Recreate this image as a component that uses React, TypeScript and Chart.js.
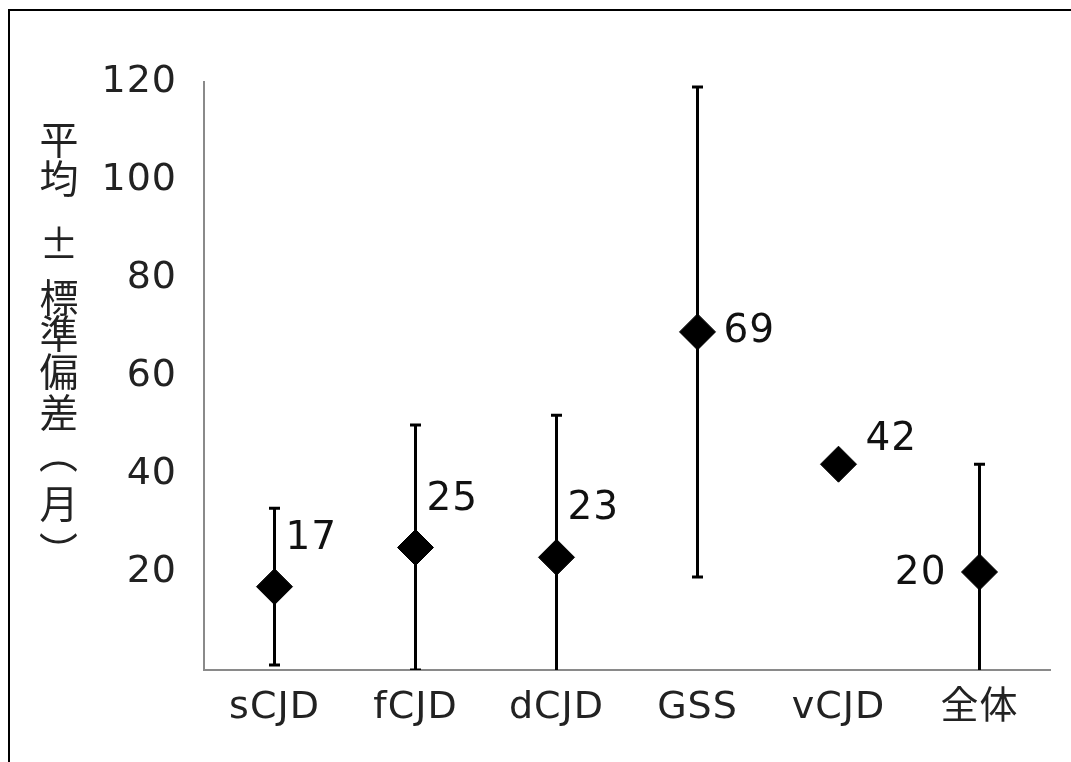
import React, { useEffect, useRef } from "react";
import { Chart, registerables } from "chart.js";

Chart.register(...registerables);

const categories = ["sCJD", "fCJD", "dCJD", "GSS", "vCJD", "全体"];
const means = [17, 25, 23, 69, 42, 20];
const stdDevs: (number | null)[] = [16, 25, 29, 50, null, 22];
const yTicks = [0, 20, 40, 60, 80, 100, 120];
const titleChars = ["平", "均", "±", "標", "準", "偏", "差", "（", "月", "）"];
const labelPlacement = ["above", "above", "above", "right", "aboveRight", "left"];

const FONT = "'DejaVu Sans', 'Noto Sans CJK JP', sans-serif";

export default function App() {
  const ref = useRef<HTMLCanvasElement>(null);
  useEffect(() => {
    const canvas = ref.current!;
    const errorBars = {
      id: "errorBars",
      beforeDatasetsDraw(chart: any) {
        const { ctx, chartArea } = chart;
        const x = chart.scales.x;
        const y = chart.scales.y;
        ctx.save();
        ctx.beginPath();
        ctx.rect(chartArea.left, chartArea.top - 10, chartArea.right - chartArea.left, chartArea.bottom - chartArea.top + 10);
        ctx.clip();
        ctx.strokeStyle = "#000";
        ctx.lineWidth = 3;
        means.forEach((m, i) => {
          const sd = stdDevs[i];
          if (sd == null) return;
          const px = x.getPixelForValue(i);
          const yTop = y.getPixelForValue(m + sd);
          const yBot = y.getPixelForValue(m - sd);
          ctx.beginPath();
          ctx.moveTo(px, yTop);
          ctx.lineTo(px, yBot);
          ctx.moveTo(px - 5.5, yTop);
          ctx.lineTo(px + 5.5, yTop);
          ctx.moveTo(px - 5.5, yBot);
          ctx.lineTo(px + 5.5, yBot);
          ctx.stroke();
        });
        ctx.restore();
      },
    };
    const valueLabels = {
      id: "valueLabels",
      afterDatasetsDraw(chart: any) {
        const { ctx } = chart;
        const meta = chart.getDatasetMeta(0);
        ctx.save();
        ctx.font = `39px ${FONT}`;
        ctx.fillStyle = "#111";
        ctx.textBaseline = "middle";
        meta.data.forEach((pt: any, i: number) => {
          const p = labelPlacement[i];
          let dx = 11, dy = -48, align: CanvasTextAlign = "left";
          if (p === "right") { dx = 26; dy = 0; }
          else if (p === "aboveRight") { dx = 27; dy = -24; }
          else if (p === "left") { dx = -33; dy = 2; align = "right"; }
          ctx.textAlign = align;
          ctx.fillText(String(means[i]), pt.x + dx, pt.y + dy);
        });
        ctx.restore();
      },
    };
    const verticalTitle = {
      id: "verticalTitle",
      afterDraw(chart: any) {
        const { ctx } = chart;
        ctx.save();
        (ctx as any).letterSpacing = "0px";
        ctx.font = `39px 'Noto Sans CJK JP', sans-serif`;
        ctx.fillStyle = "#222";
        ctx.textAlign = "center";
        ctx.textBaseline = "middle";
        const ys = [139, 178, 243, 297, 333, 371, 412, 454, 503, 551];
        titleChars.forEach((ch, i) => {
          const cx = 59;
          const cy = ys[i];
          if (ch === "（" || ch === "）") {
            ctx.save();
            ctx.translate(cx, cy);
            ctx.rotate(Math.PI / 2);
            ctx.fillText(ch, 0, 0);
            ctx.restore();
          } else {
            ctx.fillText(ch, cx, cy);
          }
        });
        ctx.restore();
      },
    };
    const spacing = {
      id: "spacing",
      beforeDraw(chart: any) {
        (chart.ctx as any).letterSpacing = "1px";
      },
    };
    const chart = new Chart(canvas, {
      type: "line",
      data: {
        labels: categories,
        datasets: [
          {
            data: means,
            showLine: false,
            pointStyle: "rectRot",
            pointRadius: 18,
            pointHoverRadius: 18,
            pointBackgroundColor: "#000",
            pointBorderColor: "#000",
            pointBorderWidth: 1,
          },
        ],
      },
      options: {
        responsive: false,
        animation: false,
        layout: { padding: { top: 82, right: 21, left: 0, bottom: 0 } },
        plugins: { legend: { display: false }, tooltip: { enabled: false } },
        scales: {
          x: {
            type: "category",
            offset: true,
            grid: { display: false, drawTicks: false },
            border: { color: "#8a8a8a", width: 2 },
            ticks: { font: { size: 38, family: FONT }, color: "#222", padding: 15, maxRotation: 0 },
            afterFit(s: any) { s.height = 92; },
          },
          y: {
            min: 0,
            max: 120,
            afterBuildTicks(s: any) { s.ticks = yTicks.map((v) => ({ value: v })); },
            grid: { display: false, drawTicks: false },
            border: { color: "#8a8a8a", width: 2 },
            ticks: {
              font: { size: 38, family: FONT },
              color: "#222",
              padding: 27,
              callback: (v: any) => (v === 0 ? "" : String(v)),
            },
            afterFit(s: any) { s.width = 204; },
          },
        },
      },
      plugins: [spacing, errorBars, valueLabels, verticalTitle],
    });
    return () => chart.destroy();
  }, []);
  return (
    <div style={{ position: "fixed", left: 0, top: 0, width: 1071, height: 762, overflow: "hidden", background: "#fff" }}>
      <div style={{ position: "absolute", left: 8, top: 9, width: 1200, height: 900, border: "2px solid #000", boxSizing: "border-box" }} />
      <canvas ref={ref} width={1071} height={762} style={{ position: "absolute", left: 0, top: 0 }} />
    </div>
  );
}
